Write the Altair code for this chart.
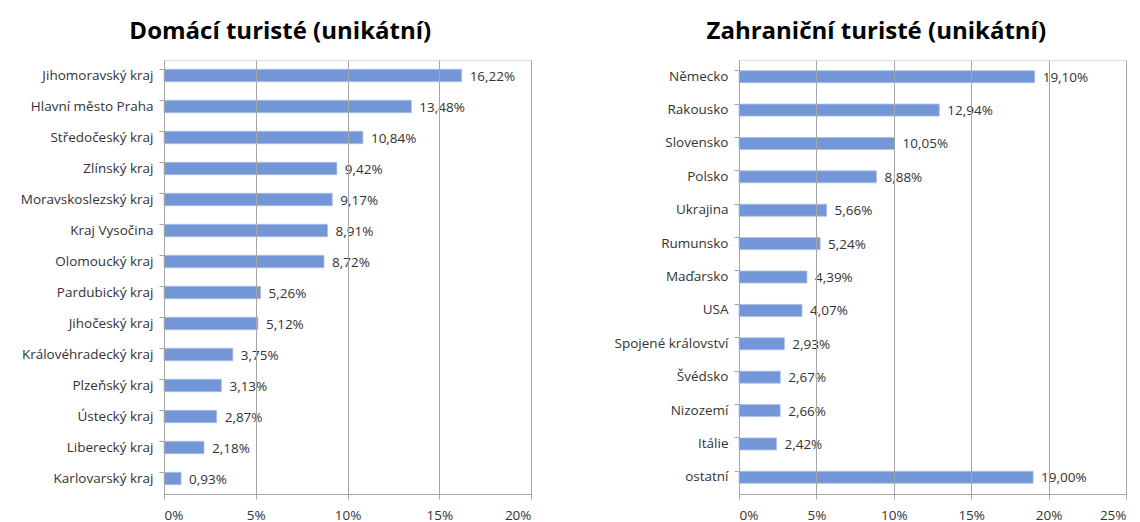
import altair as alt
import pandas as pd

dom_regions = ["Jihomoravský kraj", "Hlavní město Praha", "Středočeský kraj", "Zlínský kraj",
               "Moravskoslezský kraj", "Kraj Vysočina", "Olomoucký kraj", "Pardubický kraj",
               "Jihočeský kraj", "Královéhradecký kraj", "Plzeňský kraj", "Ústecký kraj",
               "Liberecký kraj", "Karlovarský kraj"]
dom_values = [16.22, 13.48, 10.84, 9.42, 9.17, 8.91, 8.72, 5.26, 5.12, 3.75, 3.13, 2.87, 2.18, 0.93]

for_countries = ["Německo", "Rakousko", "Slovensko", "Polsko", "Ukrajina", "Rumunsko", "Maďarsko",
                 "USA", "Spojené království", "Švédsko", "Nizozemí", "Itálie", "ostatní"]
for_values = [19.10, 12.94, 10.05, 8.88, 5.66, 5.24, 4.39, 4.07, 2.93, 2.67, 2.66, 2.42, 19.00]

dom_ticks = [0, 5, 10, 15, 20]
for_ticks = [0, 5, 10, 15, 20, 25]

BAR = "#7397d6"
FONT = "Open Sans"
TXT = "#333333"
GRID = "#a6a6a6"
FS = 13.5


def panel(cats, vals, ticks, title, width, extent, pad):
    df = pd.DataFrame({"cat": cats, "v": vals})
    base = alt.Chart(df).transform_calculate(
        lab="replace(format(datum.v, '.2f'), '.', ',') + '%'"
    )
    y = alt.Y("cat:N", sort=cats, title=None,
              scale=alt.Scale(paddingInner=pad, paddingOuter=pad / 2),
              axis=alt.Axis(bandPosition=0, labelFont=FONT, labelFontSize=FS,
                            labelColor=TXT, labelPadding=6, tickSize=5,
                            tickColor=GRID, domainColor=GRID,
                            minExtent=extent, maxExtent=extent))
    x = alt.X("v:Q", title=None,
              scale=alt.Scale(domain=[ticks[0], ticks[-1]], nice=False),
              axis=alt.Axis(values=ticks, labelExpr="datum.value + '%'",
                            labelFont=FONT, labelFontSize=FS, labelColor=TXT,
                            grid=True, gridColor=GRID, gridWidth=1,
                            tickColor=GRID, tickSize=5, domainColor=GRID,
                            labelPadding=9, zindex=1))
    bars = base.mark_bar(color=BAR, stroke="#a9bfe8", strokeWidth=0.8).encode(x=x, y=y)
    text = base.mark_text(align="left", baseline="middle", dx=8, dy=1,
                          font=FONT, fontSize=FS, color=TXT).encode(
        x=alt.X("v:Q"), y=alt.Y("cat:N", sort=cats), text="lab:N")
    return alt.layer(bars, text).properties(
        width=width, height=434,
        title=alt.TitleParams(title, font=FONT, fontSize=24, fontWeight="bold",
                              color="#000000", anchor="middle", frame="bounds",
                              offset=16, dx=10)
    )


left = panel(dom_regions, dom_values, dom_ticks, "Domácí turisté (unikátní)", 367, 155, 0.6)
right = panel(for_countries, for_values, for_ticks, "Zahraniční turisté (unikátní)", 387, 133, 0.64)

chart = alt.hconcat(left, right, spacing=73).configure_view(stroke=None).configure(
    padding={"left": 0, "top": 11, "right": 0, "bottom": 0}
)

chart.save("out.html", embed_options={"renderer": "svg", "actions": False})
